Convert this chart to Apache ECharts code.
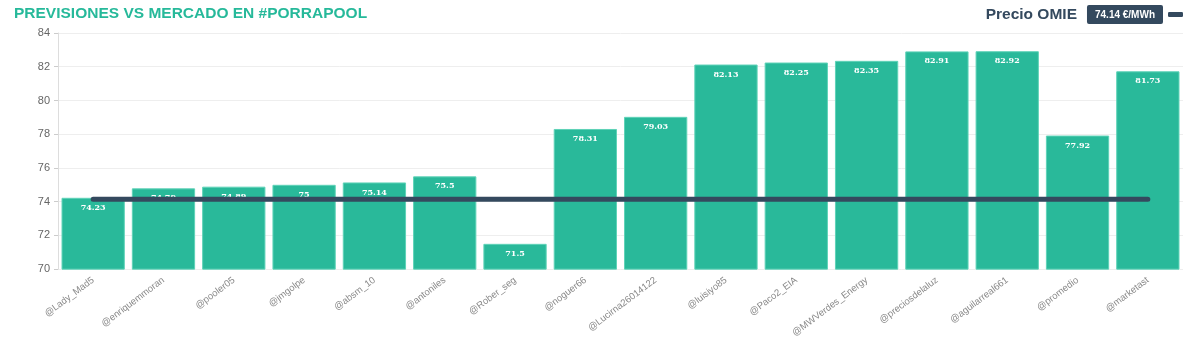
<!DOCTYPE html>
<html>
<head>
    <meta charset="utf-8">
    <title>Porrapool</title>
    <script src="https://cdn.jsdelivr.net/npm/echarts@6/dist/echarts.min.js"></script>
    <style>
        * { margin: 0; padding: 0; }
        #main { width: 1200px; height: 340px; }
    </style>
</head>
<body>
<div id="main"></div>
<script>
    var usuarios = ['@Lady_Mad5', '@enriquemmoran', '@pooler05', '@jmgolpe', '@absm_10', '@antoniles',
        '@Rober_seg', '@noguer66', '@Lucirna26014122', '@luisiyo85', '@Paco2_EIA', '@MWVerdes_Energy',
        '@preciosdelaluz', '@aguilarreal661', '@promedio', '@marketast'];
    var previsiones = [74.23, 74.79, 74.89, 75, 75.14, 75.5, 71.5, 78.31, 79.03, 82.13, 82.25, 82.35,
        82.91, 82.92, 77.92, 81.73];
    var precioOmie = 74.14;
    var omieLinea = usuarios.map(function () { return precioOmie; });

    var chart = echarts.init(document.getElementById('main'));
    var option = {
        animation: false,
        title: {
            text: 'PREVISIONES VS MERCADO EN #PORRAPOOL',
            left: 9,
            top: 1,
            textStyle: { color: '#26b99a', fontSize: 15.5, fontWeight: 'bold', fontFamily: 'Liberation Sans' }
        },
        legend: {
            right: 12,
            top: 0,
            align: 'right',
            itemWidth: 15,
            itemHeight: 5,
            itemGap: 10,
            data: [{ name: 'Precio OMIE', icon: 'roundRect' }],
            formatter: function (n) {
                return '{a|' + n + '}   {b|' + precioOmie + ' €/MWh}';
            },
            textStyle: {
                rich: {
                    a: { fontSize: 15.5, fontWeight: 'bold', color: '#34495e', fontFamily: 'Liberation Sans' },
                    b: { fontSize: 10, fontWeight: 'bold', color: '#fff', backgroundColor: '#34495e',
                        padding: [5, 8, 4, 8], borderRadius: 2, fontFamily: 'Liberation Sans' }
                }
            }
        },
        grid: { left: 58, right: 17, top: 33, bottom: 69 },
        xAxis: {
            type: 'category',
            data: usuarios,
            axisTick: { show: false },
            axisLine: { show: false },
            axisLabel: { rotate: 37, color: '#888', fontSize: 9.5, fontFamily: 'Liberation Sans', interval: 0, margin: 10 }
        },
        yAxis: {
            type: 'value',
            min: 70,
            max: 84,
            interval: 2,
            axisLine: { show: true, lineStyle: { color: '#ddd' } },
            axisTick: { show: true, length: 4, lineStyle: { color: '#ccc' } },
            axisLabel: { color: '#666', fontSize: 11, fontFamily: 'Liberation Sans' },
            splitLine: { lineStyle: { color: '#eee' } }
        },
        series: [
            {
                name: 'Previsión',
                type: 'bar',
                data: previsiones,
                barCategoryGap: '10%',
                itemStyle: { color: '#29b99a', borderColor: '#5fd3b8', borderWidth: 1 },
                label: {
                    show: true,
                    position: 'insideTop',
                    distance: 6,
                    color: '#fff',
                    fontSize: 8,
                    fontWeight: 'bold',
                    fontFamily: 'DejaVu Serif'
                }
            },
            {
                name: 'Precio OMIE',
                type: 'line',
                data: omieLinea,
                showSymbol: false,
                lineStyle: { color: '#34495e', width: 5, cap: 'round' },
                itemStyle: { color: '#34495e' },
                z: 5
            }
        ]
    };
    chart.setOption(option);
</script>
</body>
</html>
